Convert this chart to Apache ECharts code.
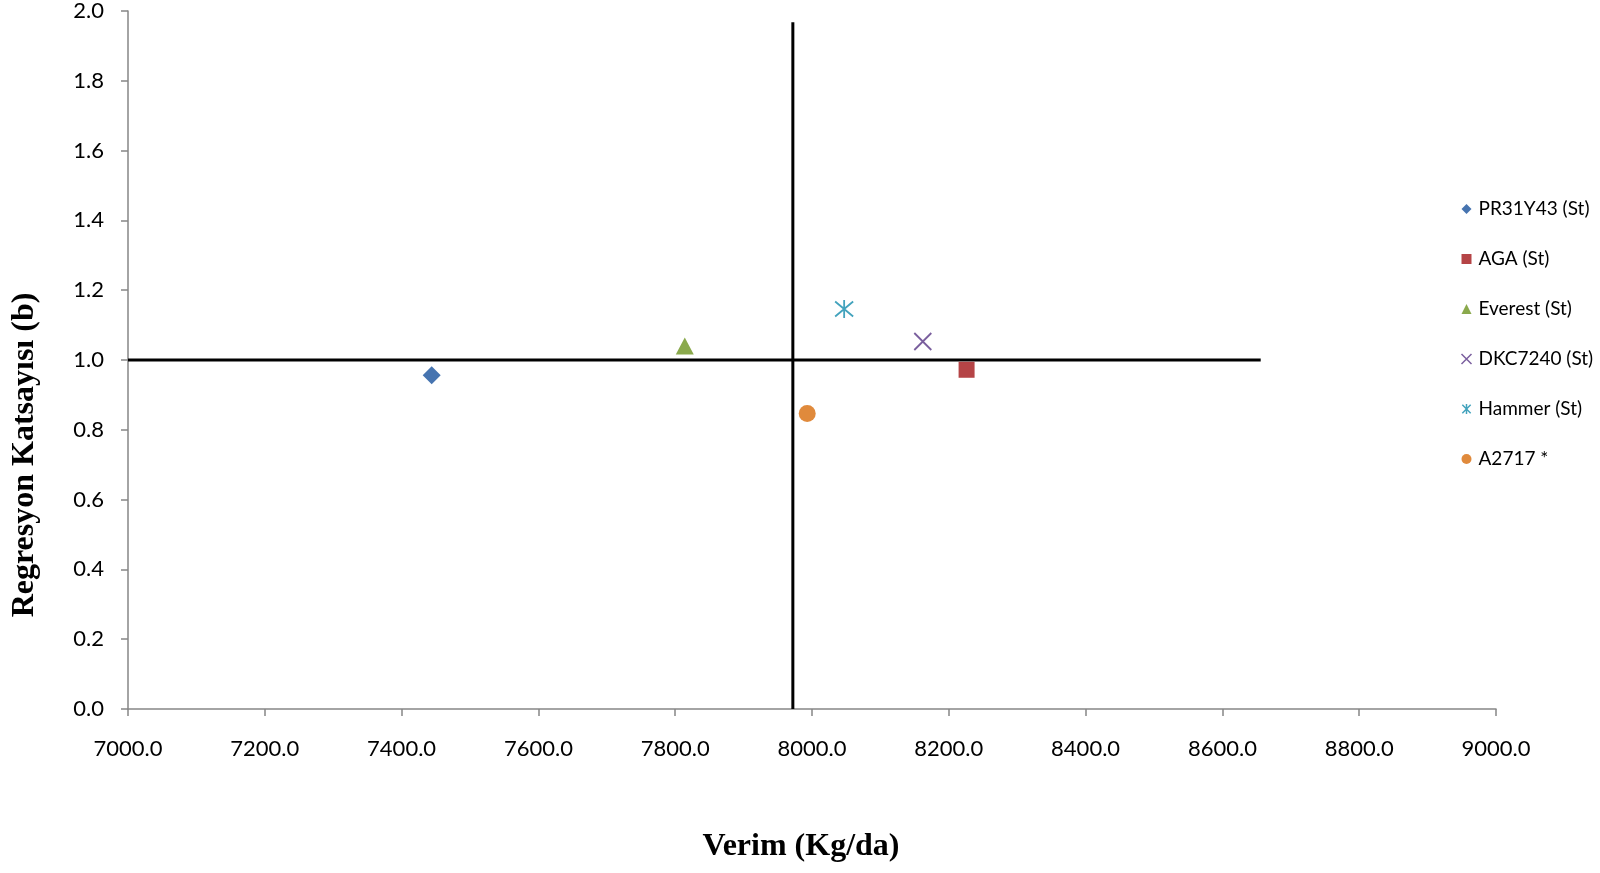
<!DOCTYPE html>
<html>
<head>
<meta charset="utf-8">
<script src="https://cdn.jsdelivr.net/npm/echarts@6/dist/echarts.min.js"></script>
<style>html,body{margin:0;padding:0;background:#fff;}#c{width:1600px;height:873px;}</style>
</head>
<body>
<div id="c"></div>
<script>
var seriesNames = ['PR31Y43 (St)', 'AGA (St)', 'Everest (St)', 'DKC7240 (St)', 'Hammer (St)', 'A2717 *'];
var yieldValues = [7444, 8226, 7814, 8162, 8047, 7993];
var bValues = [0.956, 0.972, 1.04, 1.053, 1.146, 0.847];
var meanYield = 7972;
var vLineTop = 1.968;
var hLineEnd = 8656;
var xTicks = [7000, 9000, 200];
var yTicks = [0, 2, 0.2];

var colors = ['#4674b0', '#b54446', '#8aa94c', '#7a5f9e', '#43a3bd', '#e08a3c'];
var symbols = ['diamond', 'rect', 'triangle',
  'path://M0,0L10,10M10,0L0,10',
  'path://M0,0L10,10M10,0L0,10M5,-1L5,11',
  'circle'];
var sizes = [[18, 18], 16, [18, 17], 17, 18, 17];

var chart = echarts.init(document.getElementById('c'));
var series = seriesNames.map(function (n, i) {
  var stroke = (i === 3 || i === 4);
  return {
    name: n, type: 'scatter', z: 5,
    symbol: symbols[i], symbolSize: sizes[i],
    itemStyle: stroke ? {color: 'none', borderColor: colors[i], borderWidth: 1.8, opacity: 1} : {color: colors[i], opacity: 1},
    data: [[yieldValues[i], bValues[i]]]
  };
});
series.push({
  type: 'line', z: 3, silent: true, symbol: 'none',
  lineStyle: {color: '#000', width: 3},
  data: [[meanYield, 0], [meanYield, vLineTop]]
});
series.push({
  type: 'line', z: 3, silent: true, symbol: 'none',
  lineStyle: {color: '#000', width: 3},
  data: [[xTicks[0], 1], [hLineEnd, 1]]
});

chart.setOption({
  animation: false,
  grid: {left: 128, right: 104, top: 11, bottom: 164},
  xAxis: {
    type: 'value', min: xTicks[0], max: xTicks[1], interval: xTicks[2],
    splitLine: {show: false},
    axisLine: {onZero: false, lineStyle: {color: '#868686', width: 1.5}},
    axisTick: {inside: false, length: 7, lineStyle: {color: '#868686', width: 1.5}},
    axisLabel: {margin: 29, color: '#000', fontFamily: 'Lato', fontSize: 22,
      formatter: function (v) { return v.toFixed(1); }}
  },
  yAxis: {
    type: 'value', min: yTicks[0], max: yTicks[1], interval: yTicks[2],
    splitLine: {show: false},
    axisLine: {show: true, onZero: false, lineStyle: {color: '#868686', width: 1.5}},
    axisTick: {show: true, inside: false, length: 7, lineStyle: {color: '#868686', width: 1.5}},
    axisLabel: {margin: 24, color: '#000', fontFamily: 'Lato', fontSize: 22,
      formatter: function (v) { return v.toFixed(1); }}
  },
  legend: {
    orient: 'vertical', left: 1454, top: 194,
    data: seriesNames.map(function (n, i) {
      return {name: n, icon: symbols[i],
        itemStyle: (i === 3 || i === 4) ? {color: 'none', borderColor: colors[i], borderWidth: 1.5} : {color: colors[i]}};
    }),
    itemWidth: 10, itemHeight: 10, itemGap: 30,
    textStyle: {fontFamily: 'Lato', fontSize: 19, color: '#000', lineHeight: 20, padding: [0, 0, 0, 2]}
  },
  graphic: [
    {type: 'text', position: [801, 847],
      style: {text: 'Verim (Kg/da)', font: 'bold 32px "Liberation Serif"', fill: '#000', textAlign: 'center', textVerticalAlign: 'middle'}},
    {type: 'text', rotation: Math.PI / 2, position: [25, 455],
      style: {text: 'Regresyon Katsayısı (b)', font: 'bold 32px "Liberation Serif"', fill: '#000', textAlign: 'center', textVerticalAlign: 'middle'}}
  ],
  series: series
});
</script>
</body>
</html>
